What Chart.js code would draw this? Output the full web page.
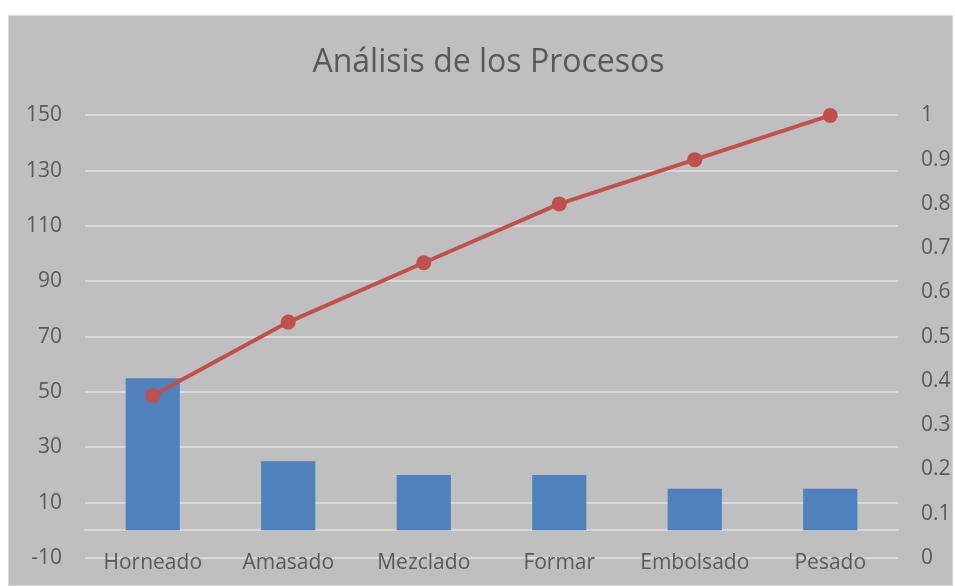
<!DOCTYPE html>
<html>
<head>
<meta charset="utf-8">
<script src="https://cdn.jsdelivr.net/npm/chart.js@4/dist/chart.umd.min.js"></script>
<style>
  body { margin: 0; background: #ffffff; }
  #box {
    position: absolute; left: 8px; top: 15px;
    width: 945px; height: 571px; box-sizing: border-box;
    background: #bfbfbf; border: 1px solid #d9d9d9;
  }
  #paretoChart { position: absolute; left: 0; top: 0; }
</style>
</head>
<body>
<div id="box"><canvas id="paretoChart" width="943" height="569"></canvas></div>
<script>
/* ============================
   DATA
   ============================ */

const procesos = ["Horneado", "Amasado", "Mezclado", "Formar", "Embolsado", "Pesado"];
const frecuencia = [55, 25, 20, 20, 15, 15];
const acumulado = [0.367, 0.533, 0.667, 0.8, 0.9, 1];

const leftTicks = { min: -10, max: 150, step: 20 };
const rightTicks = { min: 0, max: 1, step: 0.1 };

/* ============================
   CHART
   ============================ */

const textColor = "#595959";
const gridColor = "#d9d9d9";
const fontFamily = "'Open Sans', 'DejaVu Sans', sans-serif";

// keep the label overflow from pushing the plot area in
function fixAxis(width) {
  return (scale) => {
    scale.width = width;
    scale.paddingTop = 0;
    scale.paddingBottom = 0;
  };
}

const ctx = document.getElementById("paretoChart").getContext("2d");

new Chart(ctx, {
  data: {
    labels: procesos,
    datasets: [
      {
        type: "line",
        label: "Acumulado",
        data: acumulado,
        yAxisID: "y1",
        borderColor: "#c0504d",
        backgroundColor: "#c0504d",
        borderWidth: 4,
        pointRadius: 7.5,
        pointBorderWidth: 0,
        tension: 0,
        clip: false,
        order: 0
      },
      {
        type: "bar",
        label: "Frecuencia",
        data: frecuencia,
        yAxisID: "y",
        backgroundColor: "#4f81bd",
        barPercentage: 0.4,
        categoryPercentage: 1,
        order: 1
      }
    ]
  },
  options: {
    responsive: false,
    animation: false,
    layout: { padding: { left: 16, right: 0, top: 0, bottom: 27 } },
    plugins: {
      legend: { display: false },
      tooltip: { enabled: false },
      title: {
        display: true,
        text: "Análisis de los Procesos",
        color: textColor,
        font: { family: fontFamily, size: 32, weight: "normal" },
        padding: { top: 28, bottom: 33 }
      }
    },
    scales: {
      x: {
        type: "category",
        position: { y: 0 },
        offset: true,
        grid: { display: false, drawTicks: false },
        border: { display: true, color: gridColor, width: 2 },
        ticks: {
          color: textColor,
          font: { family: fontFamily, size: 21 },
          padding: 20,
          maxRotation: 0,
          autoSkip: false
        }
      },
      y: {
        position: "left",
        min: leftTicks.min,
        max: leftTicks.max,
        grid: { color: gridColor, lineWidth: 2, drawTicks: false },
        border: { display: false },
        ticks: {
          stepSize: leftTicks.step,
          color: textColor,
          font: { family: fontFamily, size: 21 },
          padding: 23
        },
        afterFit: fixAxis(60)
      },
      y1: {
        position: "right",
        min: rightTicks.min,
        max: rightTicks.max,
        grid: { display: false, drawTicks: false },
        border: { display: false },
        ticks: {
          stepSize: rightTicks.step,
          color: textColor,
          font: { family: fontFamily, size: 21 },
          padding: 23,
          callback: (v) => String(Math.round(v * 10) / 10)
        },
        afterFit: fixAxis(54)
      }
    }
  }
});
</script>
</body>
</html>
